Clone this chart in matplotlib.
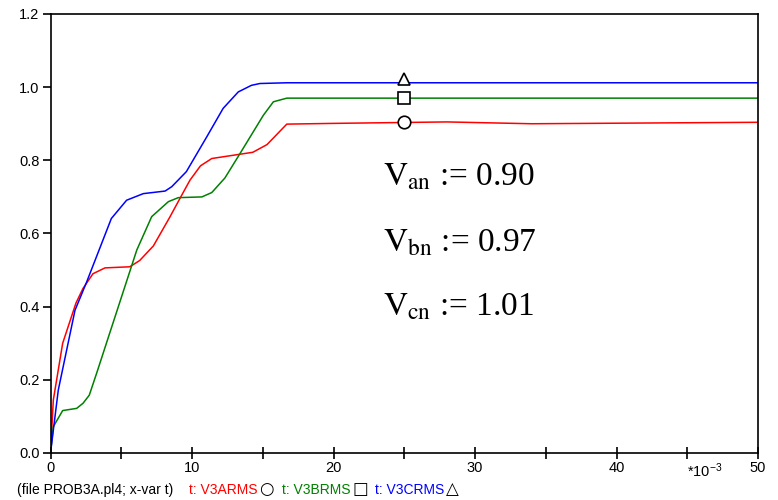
import numpy as np
import matplotlib
matplotlib.use("Agg")
import matplotlib.pyplot as plt

plt.rcParams['font.family'] = ['Liberation Sans', 'DejaVu Sans']
plt.rcParams['mathtext.fontset'] = 'custom'
plt.rcParams['mathtext.rm'] = 'Liberation Sans'
plt.rcParams['mathtext.it'] = 'Liberation Sans'

# time in ms (axis shows *10^-3 s)
t_a = [0, 0.2, 0.86, 1.8, 2.3, 3.0, 3.85, 5.6, 6.3, 7.27, 8.45, 9.15, 9.86, 10.6, 11.4,
       14.3, 15.3, 16.7, 20, 28, 34, 50]
v_a = [0, 0.145, 0.30, 0.41, 0.45, 0.49, 0.506, 0.509, 0.526, 0.566, 0.646, 0.696, 0.746,
       0.785, 0.805, 0.822, 0.843, 0.899, 0.901, 0.905, 0.900, 0.904]

t_b = [0, 0.2, 0.86, 1.85, 2.3, 2.74, 3.26, 6.1, 7.15, 8.33, 9.03, 10.7, 11.4, 12.33,
       13.4, 15.04, 15.75, 16.7, 50]
v_b = [0, 0.072, 0.116, 0.122, 0.136, 0.158, 0.218, 0.555, 0.646, 0.687, 0.698, 0.700,
       0.712, 0.752, 0.819, 0.923, 0.960, 0.970, 0.970]

t_c = [0, 0.55, 1.73, 2.56, 4.3, 5.38, 6.56, 8.1, 8.57, 9.6, 11.04, 12.2, 13.27, 14.2,
       14.8, 16.7, 50]
v_c = [0, 0.172, 0.39, 0.468, 0.641, 0.691, 0.709, 0.716, 0.728, 0.769, 0.864, 0.942,
       0.987, 1.005, 1.010, 1.012, 1.012]

marker_t = 25
results = [("an", "0.90"), ("bn", "0.97"), ("cn", "1.01")]

W, H = 778, 500
fig = plt.figure(figsize=(W / 100, H / 100), dpi=100)
ax = fig.add_axes([50.5 / W, 1 - 453 / H, (758 - 50.5) / W, (453 - 14) / H])

ax.plot(t_a, v_a, color='#ff0000', lw=1.1)
ax.plot(t_b, v_b, color='#008000', lw=1.1)
ax.plot(t_c, v_c, color='#0000ff', lw=1.1)

ax.plot(marker_t, np.interp(marker_t, t_a, v_a), 'o', mfc='white', mec='black', ms=9, mew=1.2)
ax.plot(marker_t, np.interp(marker_t, t_b, v_b), 's', mfc='white', mec='black', ms=8.5, mew=1.2)
ax.plot(marker_t, np.interp(marker_t, t_c, v_c) + 0.01, '^', mfc='white', mec='black', ms=9, mew=1.2)

ax.set_xlim(0, 50)
ax.set_ylim(0, 1.2)
ax.set_xticks(np.arange(0, 51, 5))
ax.set_xticklabels(['0', '', '10', '', '20', '', '30', '', '40', '*10$^{-3}$', '50'])
ax.get_xticklabels()[9].set_horizontalalignment('left')
ax.set_yticks(np.arange(0, 1.21, 0.2))
ax.set_yticklabels(['%.1f' % v for v in np.arange(0, 1.21, 0.2)])
ax.tick_params(axis='y', direction='out', length=6, width=1.2, labelsize=10.5, pad=2)
ax.tick_params(axis='x', direction='inout', length=8, width=1.2, labelsize=10.5, pad=2)
for s in ax.spines.values():
    s.set_linewidth(1.2)

for i, (sub, val) in enumerate(results):
    y_px = 186 + 65 * i
    fig.text(383 / W, 1 - y_px / H, r"$\mathrm{V}_{\mathrm{%s}}$ := %s" % (sub, val),
             fontsize=24, family='Liberation Serif', math_fontfamily='stix',
             ha='left', va='baseline')

# bottom legend line
yb = 1 - 494 / H
fig.text(17 / W, yb, "(file PROB3A.pl4; x-var t)", fontsize=10, color='black', va='baseline')
legend_items = [(189, "t: V3ARMS", '#ff0000', '\u25cb', 259),
                (282, "t: V3BRMS", '#008000', '\u25a1', 352),
                (375, "t: V3CRMS", '#0000ff', '\u25b3', 446)]
for x0, lab, col, sym, xs in legend_items:
    fig.text(x0 / W, yb, lab, fontsize=10, color=col, va='baseline')
    fig.text(xs / W, yb, sym, fontsize=12, color='black', va='baseline', family='DejaVu Sans')

fig.savefig("out.png", dpi=100)
